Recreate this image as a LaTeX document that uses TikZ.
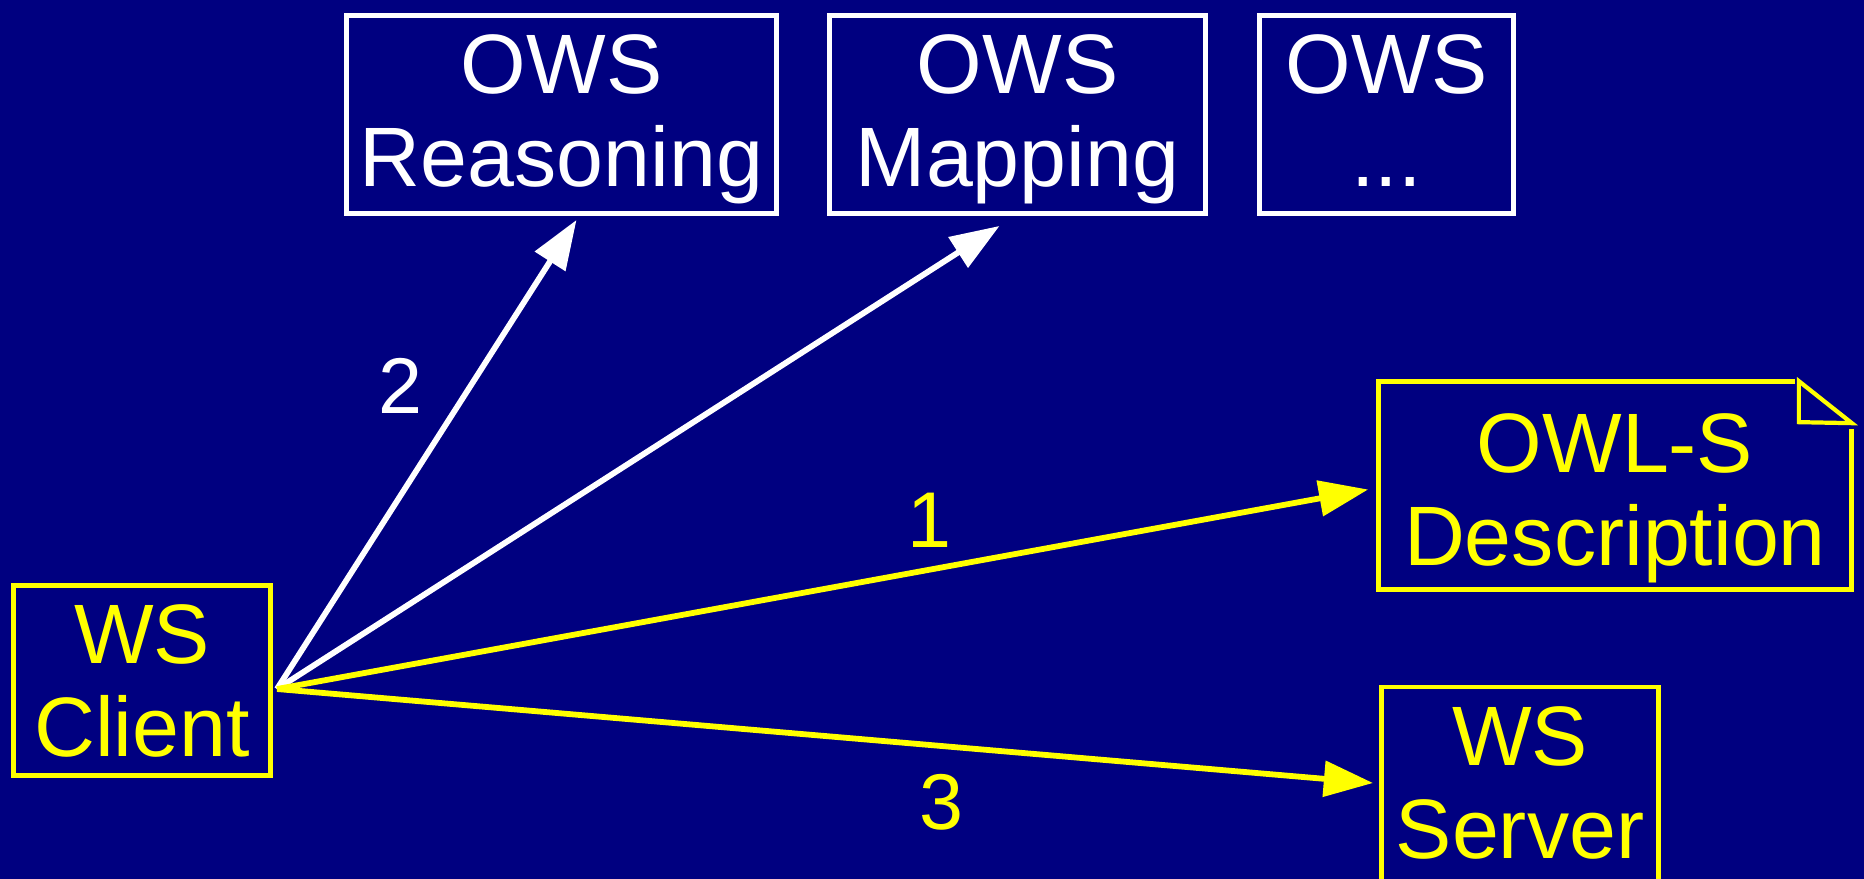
\documentclass[tikz,border=0pt]{standalone}
\usepackage{fontspec}
\setmainfont{Liberation Sans}
\usetikzlibrary{arrows.meta,calc}

\definecolor{slidebg}{HTML}{000080}
\definecolor{slideyellow}{HTML}{FFFF00}

\begin{document}
\begin{tikzpicture}[x=0.02cm, y=-0.02cm,
  box/.style={draw=white, line width=2.8pt, inner sep=0pt},
  ybox/.style={box, draw=slideyellow},
  boxtext/.style={anchor=north, align=center, inner sep=0pt, text=white,
    font=\fontsize{48}{53}\selectfont},
  ytext/.style={boxtext, text=slideyellow},
  num/.style={inner sep=0pt, font=\fontsize{45}{45}\selectfont},
  link/.style={draw=white, line width=3.3pt, -{Triangle[length=28pt,width=20pt]}},
  ylink/.style={link, draw=slideyellow, fill=slideyellow}]

% slide background (the server box runs off the bottom edge)
\useasboundingbox (0,0) rectangle (1864,879);
\clip (0,0) rectangle (1864,879);
\fill[slidebg] (0,0) rectangle (1864,879);

% OWS services along the top
\node[box, minimum width=430*0.02cm, minimum height=198*0.02cm] (reason) at (561.5,114.5) {};
\node[boxtext] (reasontxt) at ($(reason.north)+(0,21)$) {OWS\\Reasoning};
\node[box, minimum width=376*0.02cm, minimum height=198*0.02cm] (map) at (1017.5,114.5) {};
\node[boxtext] (maptxt) at ($(map.north)+(0,21)$) {OWS\\Mapping};
\node[box, minimum width=254*0.02cm, minimum height=198*0.02cm] (etc) at (1386.5,114.5) {};
\node[boxtext] (etctxt) at ($(etc.north)+(0,21)$) {OWS\\...};

% client, description and server
\node[ybox, minimum width=257*0.02cm, minimum height=190*0.02cm] (client) at (142,680.5) {};
\node[ytext] (clienttxt) at ($(client.north)+(0,21)$) {WS\\Client};
\node[ybox, minimum width=277*0.02cm, minimum height=220*0.02cm] (server) at (1520,797) {};
\node[ytext] (servertxt) at ($(server.north)+(0,22)$) {WS\\Server};

% OWL-S document with a folded corner
\node[inner sep=0pt, minimum width=473*0.02cm, minimum height=208*0.02cm] (owl) at (1615,485.5) {};
\node[ytext] (owltxt) at ($(owl.north)+(0,32)$) {OWL-S\\Description};
\draw[slideyellow, line width=2.8pt] ($(owl.north east)+(-57,0)$) -- (owl.north west)
  -- (owl.south west) -- (owl.south east) -- ($(owl.north east)+(0,48)$);
\draw[slideyellow, line width=2.4pt] ($(owl.north east)+(-53,0)$) -- ($(owl.north east)+(0,42)$)
  -- ($(owl.north east)+(-53,41)$) -- cycle;

% requests from the client
\coordinate (hub) at (277,689);
\draw[link] (hub) -- ($(reason.south)+(15,4)$);
\draw[link] (hub) -- ($(map.south)+(-18,10)$);
\draw[ylink] (hub) -- ($(owl.west)+(-10,4)$);
\draw[ylink] (hub) -- ($(server.west)+(-6,-14)$);

\node[num, text=white] (two) at (400,386) {2};
\node[num, text=slideyellow] (one) at (929,520) {1};
\node[num, text=slideyellow] (three) at (941,802) {3};
\end{tikzpicture}
\end{document}
